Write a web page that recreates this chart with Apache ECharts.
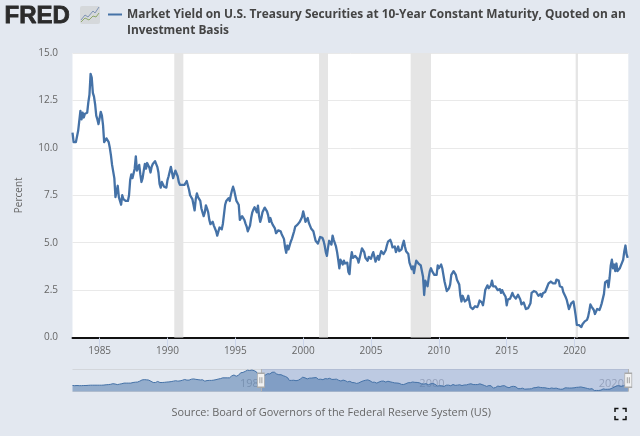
<!DOCTYPE html>
<html><head><meta charset="utf-8">
<style>html,body{margin:0;padding:0;background:#e3e8f0}#c{width:640px;height:436px}</style>
<script src="https://cdn.jsdelivr.net/npm/echarts@6/dist/echarts.min.js"></script>
</head><body><div id="c"></div>
<script>
const titleText = "Market Yield on U.S. Treasury Securities at 10-Year Constant Maturity, Quoted on an\nInvestment Basis";
const sourceText = "Source: Board of Governors of the Federal Reserve System (US)";
const yAxisName = "Percent";
const yearTicks = [1985,1990,1995,2000,2005,2010,2015,2020];
const navigatorTicks = [1980,2000,2020];
const recessions = [[1990.5,1991.17],[2001.17,2001.83],[2007.92,2009.42],[2020.08,2020.25]];
// monthly yield from Jan 1983 to Dec 2023
const yieldMonthly = [
10.8,10.3,10.3,10.3,10.4,10.9,11.0,11.95,11.5,11.85,11.6,11.8,
11.7,11.85,12.4,12.8,13.9,13.7,12.9,12.7,12.3,11.7,11.5,11.25,
11.2,11.9,11.7,11.2,10.3,10.3,10.5,10.4,10.3,10.0,9.6,9.1,
9.1,8.4,7.4,7.4,8.0,7.4,7.2,7.0,7.5,7.3,7.2,7.2,
7.2,7.2,7.5,8.3,8.6,8.4,8.5,8.9,9.55,8.8,8.9,9.1,
8.6,8.2,8.4,8.8,9.15,8.9,9.2,9.25,8.95,8.7,9.0,9.15,
9.1,9.3,9.3,9.0,8.7,8.1,7.9,8.2,8.2,7.95,7.85,7.9,
8.3,8.5,8.6,9.0,8.7,8.4,8.5,8.8,8.8,8.5,8.2,8.05,
8.05,8.05,8.1,8.05,8.05,8.25,8.2,7.8,7.5,7.5,7.3,7.0,
6.7,7.3,7.6,7.4,7.3,7.2,6.8,6.6,6.4,6.6,6.97,6.8,
6.6,6.2,5.98,6.0,6.1,5.9,5.8,5.6,5.37,5.35,5.8,5.75,
5.7,6.0,6.5,7.0,7.2,7.1,7.35,7.2,7.5,7.75,7.95,7.75,
7.7,7.2,7.15,7.0,6.2,6.15,6.4,6.45,6.2,6.0,5.85,5.6,
5.6,5.9,6.3,6.6,6.75,6.87,6.75,6.6,6.95,6.4,6.1,6.3,
6.6,6.5,6.85,6.85,6.65,6.45,6.1,6.3,6.1,5.95,5.85,5.75,
5.5,5.6,5.65,5.65,5.6,5.45,5.5,5.2,4.75,4.47,4.85,4.65,
4.75,5.05,5.2,5.25,5.6,5.85,5.75,5.95,5.9,6.1,6.05,6.35,
6.65,6.4,6.1,6.15,6.3,6.05,6.0,5.75,5.8,5.6,5.5,5.1,
5.2,4.95,4.95,5.3,5.4,5.25,5.1,4.85,4.5,4.3,4.75,5.1,
5.05,4.9,5.37,5.15,5.1,4.8,4.5,4.1,3.65,4.1,4.2,3.85,
4.05,3.9,3.85,3.95,3.45,3.34,4.1,4.5,4.2,4.3,4.3,4.25,
4.15,3.95,3.85,4.45,4.7,4.65,4.5,4.2,4.1,4.05,4.25,4.25,
4.15,4.35,4.5,4.25,4.0,3.95,4.3,4.1,4.35,4.55,4.45,4.4,
4.5,4.6,4.85,5.05,5.15,5.15,5.0,4.75,4.65,4.8,4.5,4.6,
4.8,4.55,4.65,4.65,4.9,5.1,4.8,4.55,4.6,4.4,3.95,4.05,
3.6,3.75,3.4,3.75,4.05,3.95,3.9,3.85,3.8,3.85,3.2,2.24,
3.0,2.85,2.7,3.15,3.5,3.65,3.5,3.45,3.3,3.4,3.3,3.8,
3.65,3.6,3.85,3.65,3.3,2.95,2.95,2.45,2.5,2.6,2.8,3.3,
3.4,3.5,3.45,3.3,3.05,3.15,2.8,2.2,1.9,2.2,2.05,1.9,
1.95,2.0,2.2,1.9,1.6,1.55,1.5,1.6,1.65,1.7,1.6,1.75,
1.95,1.9,1.85,1.7,2.05,2.5,2.6,2.75,2.6,2.6,2.75,3.0,
2.7,2.65,2.7,2.65,2.5,2.55,2.55,2.35,2.5,2.35,2.25,2.15,
1.7,2.0,1.95,2.05,2.15,2.35,2.2,2.2,2.05,2.15,2.25,2.25,
2.0,1.75,1.8,1.85,1.85,1.5,1.5,1.55,1.6,1.8,2.35,2.45,
2.45,2.4,2.4,2.3,2.2,2.3,2.3,2.15,2.33,2.35,2.4,2.45,
2.7,2.85,2.75,2.95,2.85,2.85,2.95,2.85,3.05,3.15,3.0,2.7,
2.7,2.65,2.4,2.5,2.15,2.0,2.05,1.5,1.65,1.8,1.8,1.9,
1.55,1.15,0.67,0.62,0.65,0.7,0.55,0.7,0.69,0.85,0.85,0.93,
1.1,1.4,1.74,1.63,1.58,1.45,1.24,1.3,1.5,1.55,1.45,1.6,
1.8,1.85,2.3,2.9,2.85,3.0,2.65,3.15,3.8,4.1,3.65,3.85,
3.5,3.9,3.5,3.45,3.65,3.8,3.95,4.1,4.55,4.85,4.4,4.2
];
// quarterly yield from Jan 1962 to Dec 1982, shown only in the navigator
const yieldEarly = [
4.0,3.9,4.0,3.9, 3.9,4.0,4.0,4.1, 4.2,4.2,4.2,4.2, 4.2,4.2,4.3,4.5,
4.6,4.8,5.2,5.0, 4.6,4.9,5.2,5.6, 5.6,5.6,5.6,6.0, 6.2,6.3,6.9,7.7,
7.9,7.8,7.6,6.8, 6.0,6.0,6.7,6.0, 6.0,6.1,6.3,6.4, 6.6,6.9,7.2,6.9,
7.1,7.5,8.0,7.6, 7.6,8.2,8.4,8.1, 7.9,7.7,7.8,6.9, 7.3,7.4,7.4,7.6,
7.9,8.3,8.6,9.1, 9.1,9.1,9.1,10.4, 11.0,10.2,10.8,12.5, 12.7,13.4,14.2,14.0,
14.3,13.9,13.1,10.7
];

const startMain = 1983, startEarly = 1962, axisEnd = 2023.96;
const mainData = yieldMonthly.map((v,i)=>[startMain + i/12, v]);
const navData = yieldEarly.map((v,i)=>[startEarly + i/4, v]).concat(mainData);
const FONT = '"Open Sans"';

const handle = (x) => [
  {coord:[x,7.5], symbol:"rect", symbolSize:[7,14], itemStyle:{color:"#f2f2f2",borderColor:"#a9a9a9",borderWidth:1}},
  {coord:[x,7.5], symbol:"path://M0 0H2V10H0ZM4 0H6V10H4Z", symbolSize:[3,6], itemStyle:{color:"#a0a0a0"}}
];

const chart = echarts.init(document.getElementById("c"),null,{renderer:"canvas"});
chart.setOption({
  animation:false,
  backgroundColor:"#e3e8f0",
  textStyle:{fontFamily:FONT},
  title:[{
    text:titleText,left:127,top:7,padding:0,
    textStyle:{fontFamily:FONT,fontSize:11.9,fontWeight:"bold",color:"#444444",lineHeight:15.5}
  },{
    text:sourceText,left:171.5,top:405.5,padding:0,
    textStyle:{fontFamily:FONT,fontSize:10.9,fontWeight:"normal",color:"#666666",lineHeight:15}
  }],
  grid:[
    {left:72.5,top:53,width:555.8,height:284.5,show:true,backgroundColor:"#ffffff",borderWidth:0},
    {left:72.5,top:369,width:555.8,height:22.5,show:false}
  ],
  xAxis:[{
    type:"value",gridIndex:0,min:startMain,max:axisEnd,
    axisLine:{show:true,onZero:true,lineStyle:{color:"#111111",width:2}},
    axisTick:{show:true,length:10,lineStyle:{color:"#ccd6eb",width:1},customValues:yearTicks},
    axisLabel:{show:true,margin:9,fontFamily:FONT,fontSize:10,color:"#666666",
      customValues:yearTicks,formatter:v=>String(v)},
    splitLine:{show:false}
  },{
    type:"value",gridIndex:1,min:startEarly,max:axisEnd,
    axisLine:{show:false},axisTick:{show:false},
    axisLabel:{show:true,inside:true,margin:2,fontFamily:FONT,fontSize:11,color:"#a9afb9",align:"left",padding:[0,0,0,6],
      customValues:navigatorTicks,formatter:v=>String(v)},
    splitLine:{show:false}
  }],
  yAxis:[{
    type:"value",gridIndex:0,min:0,max:15,interval:2.5,
    name:yAxisName,nameLocation:"middle",nameRotate:90,nameGap:48.5,
    nameTextStyle:{fontFamily:FONT,fontSize:10,color:"#666666"},
    axisLine:{show:false},axisTick:{show:false},
    axisLabel:{margin:14.5,fontFamily:FONT,fontSize:10,color:"#666666",formatter:v=>v.toFixed(1)},
    splitLine:{show:true,lineStyle:{color:"#e9e9e9",width:1}}
  },{
    type:"value",gridIndex:1,min:0,max:15,interval:15,
    axisLine:{show:false},axisTick:{show:false},axisLabel:{show:false},
    splitLine:{show:true,lineStyle:{color:"#d3d6db",width:1}}
  }],
  series:[{
    name:"Market Yield",type:"line",xAxisIndex:0,yAxisIndex:0,data:mainData,
    showSymbol:false,symbol:"none",smooth:false,
    lineStyle:{color:"#4572a7",width:2.3,join:"round"},
    markArea:{silent:true,z:1,itemStyle:{color:"#e5e5e5"},data:recessions.map(r=>[{xAxis:r[0]},{xAxis:r[1]}])}
  },{
    name:"Navigator",type:"line",xAxisIndex:1,yAxisIndex:1,data:navData,
    showSymbol:false,symbol:"none",
    lineStyle:{color:"#4572a7",width:1},
    areaStyle:{color:"#4572a7",opacity:0.5},
    markArea:{silent:true,z:3,itemStyle:{color:"rgba(102,133,194,0.3)"},
      data:[[{xAxis:startMain},{xAxis:axisEnd}]]},
    markLine:{silent:true,z:4,symbol:"none",label:{show:false},lineStyle:{color:"#b3b3b3",width:1,type:"solid"},
      data:[{xAxis:startMain},{xAxis:axisEnd}]},
    markPoint:{silent:true,z:6,label:{show:false},data:[...handle(startMain),...handle(axisEnd)]}
  }],
  graphic:[
    {type:"line",silent:true,shape:{x1:108,y1:14.5,x2:122,y2:14.5},style:{stroke:"#4572a7",lineWidth:2}},
    {type:"text",silent:true,x:4.5,y:4,style:{text:"FRED",fontFamily:'"Liberation Sans"',fontSize:24,fontWeight:"bold",fill:"#2b2b2b",stroke:"#2b2b2b",lineWidth:0.8}},
    {type:"rect",silent:true,shape:{x:80,y:6,width:20,height:18,r:2},style:{fill:"#d5d8db"}},
    {type:"polyline",silent:true,shape:{points:[[81,20],[85,15],[88,17],[93,11],[95,13],[99,7]]},style:{stroke:"#7f93b5",lineWidth:1,fill:null}},
    {type:"polyline",silent:true,shape:{points:[[81,22],[85,18],[89,20],[93,16],[96,17],[99,13]]},style:{stroke:"#8fa86a",lineWidth:1,fill:null}},
    {type:"polyline",silent:true,shape:{points:[[615,412],[615,408.5],[618.5,408.5]]},style:{stroke:"#111",lineWidth:1.5,fill:null}},
    {type:"polyline",silent:true,shape:{points:[[622.5,408.5],[626,408.5],[626,412]]},style:{stroke:"#111",lineWidth:1.5,fill:null}},
    {type:"polyline",silent:true,shape:{points:[[615,416],[615,419.5],[618.5,419.5]]},style:{stroke:"#111",lineWidth:1.5,fill:null}},
    {type:"polyline",silent:true,shape:{points:[[622.5,419.5],[626,419.5],[626,416]]},style:{stroke:"#111",lineWidth:1.5,fill:null}}
  ]
});
</script></body></html>
